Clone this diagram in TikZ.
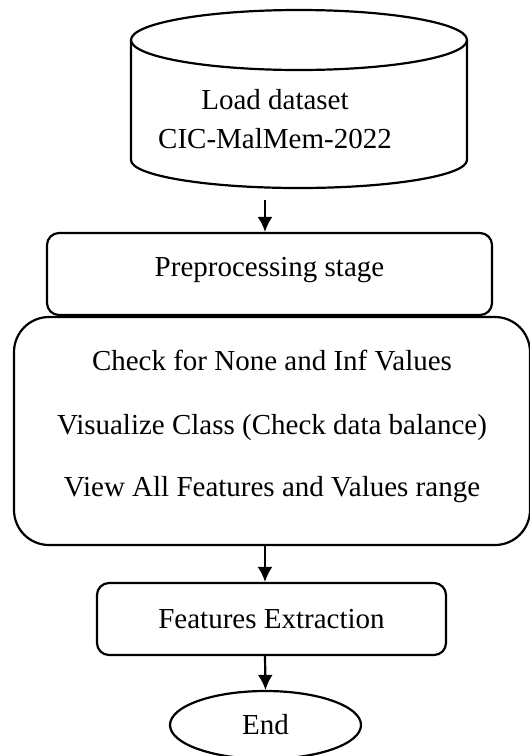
\documentclass[tikz,border=0pt]{standalone}
\usepackage{fontspec}
\setmainfont{Liberation Serif}
\usetikzlibrary{shapes.geometric,arrows.meta}

\begin{document}
\begin{tikzpicture}[
    x=1pt,y=-1pt,
    stroke/.style={line width=2.2pt},
    flow/.style={stroke,->,>={Latex[length=15pt,width=15pt]}},
    txt/.style={align=center,font=\fontsize{29}{35}\selectfont},
    box/.style={txt,stroke,draw,rounded corners=12pt},
    bigbox/.style={box,rounded corners=35pt},
    terminal/.style={txt,stroke,draw,ellipse,inner sep=0pt},
]
\useasboundingbox (0,0) rectangle (530,756);

% dataset cylinder
\draw[stroke] (131,40) -- (131,160) arc[start angle=180,end angle=0,x radius=168,y radius=28] -- (467,40);
\draw[stroke] (299,40) ellipse [x radius=168,y radius=30];
\node[txt] (db) at (275,119) {Load dataset\\[4pt]CIC-MalMem-2022};
\coordinate (dbout) at (265,200);

\node[box,minimum width=445pt,minimum height=82pt,text height=22pt,text depth=18pt] (pre) at (269.5,274) {Preprocessing stage};
\node[bigbox,minimum width=516pt,minimum height=228pt,text depth=16pt] (checks) at (272,431)
    {Check for None and Inf Values\\[29pt]Visualize Class (Check data balance)\\[27pt]View All Features and Values range};
\node[box,minimum width=349pt,minimum height=72pt] (feat) at (271.5,619) {Features Extraction};
\node[terminal,minimum width=191pt,minimum height=68pt] (stop) at (265.5,725) {End};

\draw[flow] (dbout) -- (pre.north -| dbout);
\draw[flow] (checks.south -| dbout) -- (feat.north -| dbout);
\draw[flow] (feat.south -| dbout) -- (stop.north);
\end{tikzpicture}
\end{document}
